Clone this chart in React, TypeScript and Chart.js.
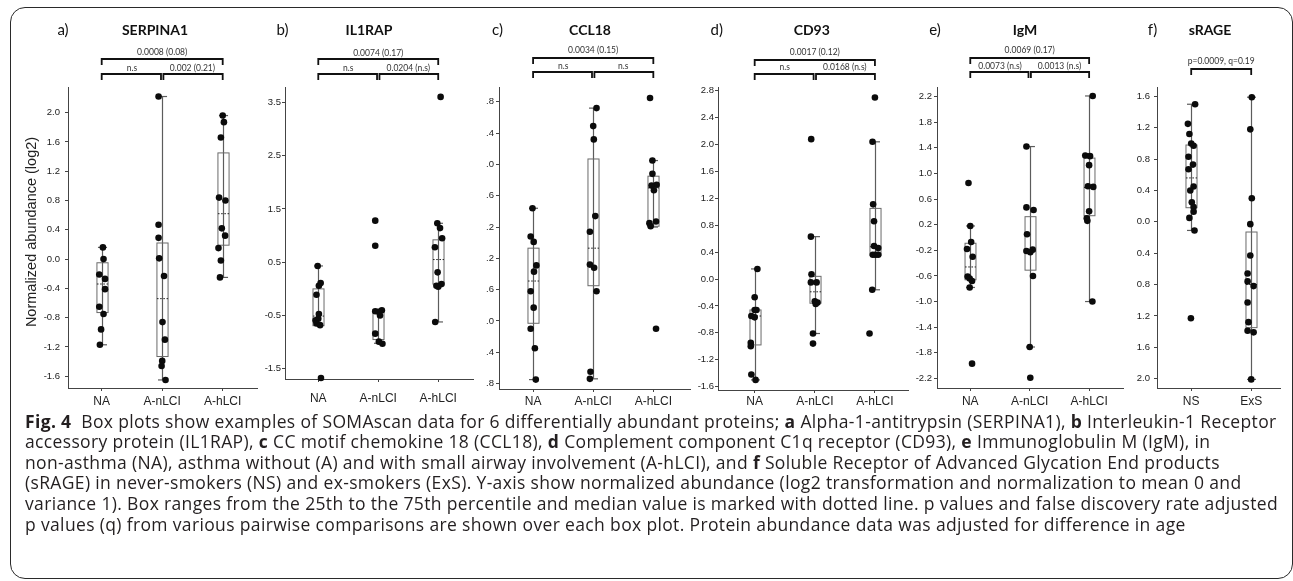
import React, { useEffect, useRef } from "react";
import { Chart, registerables } from "chart.js";

Chart.register(...registerables);

/* ====================== DATA ====================== */
const GROUPS_3 = ["NA", "A-nLCI", "A-hLCI"];
const GROUPS_2 = ["NS", "ExS"];

// a) SERPINA1
const A_TICKS = [2.0, 1.6, 1.2, 0.8, 0.4, 0.0, -0.4, -0.8, -1.2, -1.6];
const A_TICK_LABELS = ["2.0", "1.6", "1.2", "0.8", "0.4", "0.0", "-0.4", "-0.8", "-1.2", "-1.6"];
const A_NA = [0.16, 0.0, -0.21, -0.27, -0.41, -0.65, -0.75, -0.96, -1.17];
const A_NA_JITTER = [0.02, 0.03, -0.04, 0.055, 0.055, -0.04, 0.03, -0.01, -0.03];
const A_NLCI = [2.22, 0.47, 0.29, 0.01, -0.23, -0.86, -1.1, -1.39, -1.46, -1.65];
const A_NLCI_JITTER = [-0.06, -0.06, -0.06, -0.05, 0.03, 0.005, 0.045, 0, -0.01, 0.055];
const A_HLCI = [1.96, 1.87, 1.66, 0.84, 0.8, 0.42, 0.32, 0.15, -0.02, -0.25];
const A_HLCI_JITTER = [0, 0.02, -0.03, -0.06, 0.045, -0.015, 0.04, -0.07, -0.03, -0.045];
// [lower whisker, q1, median, q3, upper whisker]
const A_BOXES = [
  [-1.17, -0.73, -0.34, -0.05, 0.16],
  [-1.65, -1.33, -0.54, 0.22, 2.22],
  [-0.25, 0.19, 0.62, 1.45, 1.96],
];
const A_PVALUES = ["0.0008 (0.08)", "n.s", "0.002 (0.21)"];

// b) IL1RAP
const B_TICKS = [3.5, 2.5, 1.5, 0.5, -0.5, -1.5];
const B_TICK_LABELS = ["3.5", "2.5", "1.5", "0.5", "-0.5", "-1.5"];
const B_NA = [0.43, 0.11, 0.06, -0.11, -0.47, -0.56, -0.59, -0.65, -0.68, -1.67];
const B_NA_JITTER = [-0.01, 0.04, 0.01, -0.03, 0.01, 0, -0.045, -0.03, 0.03, 0.045];
const B_NLCI = [1.28, 0.81, -0.4, -0.42, -0.43, -0.5, -0.84, -0.99, -1.03];
const B_NLCI_JITTER = [-0.05, -0.05, 0.06, -0.05, 0.005, 0.03, -0.05, 0.01, 0.07];
const B_HLCI = [3.6, 1.23, 1.14, 0.95, 0.78, 0.31, 0.09, 0.06, 0.04, -0.62];
const B_HLCI_JITTER = [0.04, -0.015, 0.03, 0.065, -0.055, -0.01, 0.055, -0.03, 0, -0.05];
const B_BOXES = [
  [-0.69, -0.69, -0.51, 0.0, 0.43],
  [-1.02, -0.95, -0.43, -0.39, -0.39],
  [-0.62, 0.09, 0.55, 0.92, 1.23],
];
const B_PVALUES = ["0.0074 (0.17)", "n.s", "0.0204 (n.s)"];

// c) CCL18
const C_TICKS = [1.8, 1.4, 1.0, 0.6, 0.2, -0.2, -0.6, -1.0, -1.4, -1.8];
const C_TICK_LABELS = [".8", ".4", ".0", ".6", ".2", ".2", ".6", ".0", ".4", ".8"];
const C_NA = [0.44, 0.08, 0.01, -0.29, -0.37, -0.62, -0.83, -1.1, -1.35, -1.75];
const C_NA_JITTER = [-0.01, -0.04, 0.01, 0.055, 0.015, -0.04, 0.01, -0.04, 0.03, 0.045];
const C_NLCI = [1.72, 1.49, 1.32, 0.34, 0.14, -0.28, -0.32, -0.62, -1.65, -1.74];
const C_NLCI_JITTER = [0.055, 0, 0.01, 0.035, -0.055, -0.055, 0.015, 0.055, -0.045, -0.055];
const C_HLCI = [1.85, 1.05, 0.88, 0.74, 0.73, 0.67, 0.27, 0.25, 0.21, -1.1];
const C_HLCI_JITTER = [-0.055, -0.015, -0.015, 0.055, -0.03, 0.01, 0.045, -0.065, -0.045, 0.045];
const C_BOXES = [
  [-1.75, -1.03, -0.49, -0.07, 0.44],
  [-1.74, -0.55, -0.07, 1.07, 1.72],
  [0.2, 0.21, 0.7, 0.85, 1.05],
];
const C_PVALUES = ["0.0034 (0.15)", "n.s", "n.s"];

// d) CD93
const D_TICKS = [2.8, 2.4, 2.0, 1.6, 1.2, 0.8, 0.4, 0.0, -0.4, -0.8, -1.2, -1.6];
const D_TICK_LABELS = ["2.8", "2.4", "2.0", "1.6", "1.2", "0.8", "0.4", "0.0", "-0.4", "-0.8", "-1.2", "-1.6"];
const D_NA = [0.15, -0.27, -0.46, -0.46, -0.55, -0.57, -0.95, -1.0, -1.42, -1.5];
const D_NA_JITTER = [0.045, 0, 0, 0.03, -0.055, 0, -0.065, -0.065, -0.055, 0.015];
const D_NLCI = [2.08, 0.63, 0.07, -0.05, -0.05, -0.33, -0.35, -0.37, -0.81, -0.96];
const D_NLCI_JITTER = [-0.06, -0.065, -0.055, -0.065, 0.03, 0, 0.045, 0.015, -0.03, -0.03];
const D_HLCI = [2.7, 2.04, 1.11, 0.86, 0.49, 0.46, 0.36, 0.36, 0.36, -0.16, -0.81];
const D_HLCI_JITTER = [0, -0.04, -0.03, -0.015, -0.015, 0.055, -0.035, 0.01, 0.055, -0.045, -0.09];
const D_BOXES = [
  [-1.5, -0.98, -0.55, -0.46, 0.15],
  [-0.81, -0.36, -0.19, 0.04, 0.63],
  [-0.16, 0.35, 0.48, 1.05, 2.04],
];
const D_PVALUES = ["0.0017 (0.12)", "n.s", "0.0168 (n.s)"];

// e) IgM
const E_TICKS = [2.2, 1.8, 1.4, 1.0, 0.6, 0.2, -0.2, -0.6, -1.0, -1.4, -1.8, -2.2];
const E_TICK_LABELS = ["2.2", "1.8", "1.4", "1.0", "0.6", "0.2", "-0.2", "-0.6", "-1.0", "-1.4", "-1.8", "-2.2"];
const E_NA = [0.85, 0.18, -0.07, -0.18, -0.3, -0.61, -0.64, -0.68, -0.78, -1.97];
const E_NA_JITTER = [-0.03, 0, 0.015, -0.055, 0.04, -0.045, -0.01, 0.03, -0.01, 0.03];
const E_NLCI = [1.42, 0.47, 0.43, 0.05, -0.19, -0.21, -0.23, -0.6, -1.71, -2.19];
const E_NLCI_JITTER = [-0.055, -0.055, 0.065, -0.045, 0.05, -0.055, 0.01, 0.055, 0, 0.01];
const E_HLCI = [2.21, 1.28, 1.27, 1.13, 0.8, 0.79, 0.41, 0.3, 0.26, -1.0];
const E_HLCI_JITTER = [0.06, -0.065, 0.015, 0, -0.02, 0.07, 0, -0.04, -0.03, 0.055];
const E_BOXES = [
  [-0.78, -0.66, -0.46, -0.09, 0.18],
  [-1.71, -0.51, -0.21, 0.325, 1.42],
  [-1.0, 0.34, 0.78, 1.24, 2.21],
];
const E_PVALUES = ["0.0069 (0.17)", "0.0073 (n.s)", "0.0013 (n.s)"];

// f) sRAGE
const F_TICKS = [1.6, 1.2, 0.8, 0.4, 0.0, -0.4, -0.8, -1.2, -1.6, -2.0];
const F_TICK_LABELS = ["1.6", "1.2", "0.8", "0.4", "0.0", "0.4", "0.8", "1.2", "1.6", "2.0"];
const F_NS = [1.5, 1.25, 1.12, 1.0, 0.97, 0.83, 0.73, 0.67, 0.45, 0.4, 0.25, 0.19, 0.13, 0.05, -0.11, -1.23];
const F_NS_JITTER = [0.065, -0.055, -0.03, 0, 0.04, -0.045, 0.03, -0.045, 0.04, -0.015, 0.01, 0.04, 0.04, -0.03, 0.055, -0.005];
const F_EXS = [1.59, 1.18, 0.3, -0.03, -0.43, -0.66, -0.76, -0.82, -1.03, -1.28, -1.39, -1.41, -2.01];
const F_EXS_JITTER = [0.01, -0.015, 0.01, -0.015, -0.015, -0.06, -0.06, 0.04, -0.06, -0.045, -0.06, 0.04, 0];
const F_BOXES = [
  [-0.11, 0.18, 0.56, 0.98, 1.5],
  [-2.01, -1.35, -0.8, -0.13, 1.59],
];
const F_PVALUES = ["p=0.0009, q=0.19"];

/* ====================== LAYOUT ====================== */
const CANVAS_TOP = 10;
const CANVAS_H = 400;
const PLOT_TOP = 87;
const TITLE_Y = 30;
const BOX_HALF = 0.092;
const CAP_HALF = 0.075;
const AXIS_FONT = "'Liberation Sans', Arial, sans-serif";
const LABEL_FONT = "Lato, 'Open Sans', sans-serif";
const CAPTION_FONT = "'Open Sans', 'Noto Sans', sans-serif";

type PanelSpec = {
  letter: string; title: string; groups: string[];
  values: number[][]; jitter: number[][]; boxes: number[][];
  ticks: number[]; tickLabels: string[]; pvalues: string[];
  left: number; right: number; axisX: number; plotRight: number; plotBottom: number;
  yMin: number; yMax: number; xMin: number; xMax: number;
  letterX: number; titleX: number;
  upperY: number; upperTextY: number; lowerY: number; lowerTextY: number;
  yLabelPad: number; xLabelPad: number;
  yTitle?: string; yTitleX?: number; yTitleY?: number;
};

const PANELS: PanelSpec[] = [
  {
    letter: "a)", title: "SERPINA1", groups: GROUPS_3,
    values: [A_NA, A_NLCI, A_HLCI], jitter: [A_NA_JITTER, A_NLCI_JITTER, A_HLCI_JITTER],
    boxes: A_BOXES, ticks: A_TICKS, tickLabels: A_TICK_LABELS, pvalues: A_PVALUES,
    left: 12, right: 262, axisX: 68, plotRight: 257, plotBottom: 388,
    yMin: -1.76, yMax: 2.35, xMin: 0.443, xMax: 3.567,
    letterX: 63, titleX: 155, upperY: 59, upperTextY: 52, lowerY: 74, lowerTextY: 68,
    yLabelPad: 5, xLabelPad: 3.5,
    yTitle: "Normalized abundance (log2)", yTitleX: 32, yTitleY: 232,
  },
  {
    letter: "b)", title: "IL1RAP", groups: GROUPS_3,
    values: [B_NA, B_NLCI, B_HLCI], jitter: [B_NA_JITTER, B_NLCI_JITTER, B_HLCI_JITTER],
    boxes: B_BOXES, ticks: B_TICKS, tickLabels: B_TICK_LABELS, pvalues: B_PVALUES,
    left: 262, right: 478, axisX: 285, plotRight: 473, plotBottom: 379,
    yMin: -1.69, yMax: 3.786, xMin: 0.445, xMax: 3.58,
    letterX: 282.5, titleX: 369, upperY: 59, upperTextY: 53, lowerY: 74, lowerTextY: 68,
    yLabelPad: 1, xLabelPad: 9,
  },
  {
    letter: "c)", title: "CCL18", groups: GROUPS_3,
    values: [C_NA, C_NLCI, C_HLCI], jitter: [C_NA_JITTER, C_NLCI_JITTER, C_HLCI_JITTER],
    boxes: C_BOXES, ticks: C_TICKS, tickLabels: C_TICK_LABELS, pvalues: C_PVALUES,
    left: 478, right: 695, axisX: 499, plotRight: 690, plotBottom: 389,
    yMin: -1.87, yMax: 1.99, xMin: 0.433, xMax: 3.61,
    letterX: 497.5, titleX: 590, upperY: 58, upperTextY: 50, lowerY: 72, lowerTextY: 66.5,
    yLabelPad: 2, xLabelPad: 2.5,
  },
  {
    letter: "d)", title: "CD93", groups: GROUPS_3,
    values: [D_NA, D_NLCI, D_HLCI], jitter: [D_NA_JITTER, D_NLCI_JITTER, D_HLCI_JITTER],
    boxes: D_BOXES, ticks: D_TICKS, tickLabels: D_TICK_LABELS, pvalues: D_PVALUES,
    left: 695, right: 912, axisX: 718, plotRight: 908, plotBottom: 390,
    yMin: -1.65, yMax: 2.855, xMin: 0.39, xMax: 3.55,
    letterX: 716.7, titleX: 811.7, upperY: 60, upperTextY: 52.5, lowerY: 74, lowerTextY: 67.5,
    yLabelPad: 1, xLabelPad: 1.5,
  },
  {
    letter: "e)", title: "IgM", groups: GROUPS_3,
    values: [E_NA, E_NLCI, E_HLCI], jitter: [E_NA_JITTER, E_NLCI_JITTER, E_HLCI_JITTER],
    boxes: E_BOXES, ticks: E_TICKS, tickLabels: E_TICK_LABELS, pvalues: E_PVALUES,
    left: 912, right: 1128, axisX: 937, plotRight: 1123, plotBottom: 388,
    yMin: -2.35, yMax: 2.35, xMin: 0.44, xMax: 3.57,
    letterX: 935, titleX: 1025, upperY: 58, upperTextY: 50, lowerY: 72, lowerTextY: 66.5,
    yLabelPad: 2, xLabelPad: 3.5,
  },
  {
    letter: "f)", title: "sRAGE", groups: GROUPS_2,
    values: [F_NS, F_EXS], jitter: [F_NS_JITTER, F_EXS_JITTER],
    boxes: F_BOXES, ticks: F_TICKS, tickLabels: F_TICK_LABELS, pvalues: F_PVALUES,
    left: 1128, right: 1288, axisX: 1157, plotRight: 1280, plotBottom: 388,
    yMin: -2.12, yMax: 1.72, xMin: 0.43, xMax: 2.48,
    letterX: 1152.5, titleX: 1210, upperY: 69, upperTextY: 61.5, lowerY: 0, lowerTextY: 0,
    yLabelPad: 4, xLabelPad: 3.5,
  },
];

/* ====================== DRAWING ====================== */
function makeDecor(p: PanelSpec) {
  return {
    id: "decor",
    beforeDatasetsDraw(chart: any) {
      const ctx: CanvasRenderingContext2D = chart.ctx;
      const xs = chart.scales.x;
      const ys = chart.scales.y;
      ctx.save();
      p.boxes.forEach((b, i) => {
        const pos = i + 1;
        const cx = Math.round(xs.getPixelForValue(pos)) + 0.5;
        const hw = xs.getPixelForValue(pos + BOX_HALF) - xs.getPixelForValue(pos);
        const cw = xs.getPixelForValue(pos + CAP_HALF) - xs.getPixelForValue(pos);
        const [lo, q1, med, q3, hi] = b;
        const yLo = ys.getPixelForValue(lo);
        const yQ1 = ys.getPixelForValue(q1);
        const yMed = ys.getPixelForValue(med);
        const yQ3 = ys.getPixelForValue(q3);
        const yHi = ys.getPixelForValue(hi);
        ctx.setLineDash([]);
        ctx.strokeStyle = "#5c5c5c";
        ctx.lineWidth = 1.2;
        ctx.beginPath();
        ctx.moveTo(cx, yLo);
        ctx.lineTo(cx, yHi);
        ctx.stroke();
        if (hi > q3 + 1e-9) {
          ctx.beginPath();
          ctx.moveTo(cx - cw, yHi);
          ctx.lineTo(cx + cw, yHi);
          ctx.stroke();
        }
        if (lo < q1 - 1e-9) {
          ctx.beginPath();
          ctx.moveTo(cx - cw, yLo);
          ctx.lineTo(cx + cw, yLo);
          ctx.stroke();
        }
        ctx.lineWidth = 1;
        ctx.strokeStyle = "#6a6a6a";
        ctx.strokeRect(cx - hw, yQ3, 2 * hw, yQ1 - yQ3);
        ctx.setLineDash([1.6, 1.6]);
        ctx.strokeStyle = "#222";
        ctx.beginPath();
        ctx.moveTo(cx - hw, yMed);
        ctx.lineTo(cx + hw, yMed);
        ctx.stroke();
      });
      ctx.restore();
    },
    afterDraw(chart: any) {
      const ctx: CanvasRenderingContext2D = chart.ctx;
      const xs = chart.scales.x;
      const ox = p.left;
      const oy = CANVAS_TOP;
      ctx.save();
      ctx.fillStyle = "#111";
      ctx.textBaseline = "middle";
      ctx.textAlign = "center";
      ctx.font = `15px ${LABEL_FONT}`;
      ctx.fillText(p.letter, p.letterX - ox, TITLE_Y - oy);
      ctx.font = `bold 14px ${LABEL_FONT}`;
      ctx.fillText(p.title, p.titleX - ox, TITLE_Y - oy);

      const tick = 6;
      const bracket = (x1: number, x2: number, y: number) => {
        ctx.beginPath();
        ctx.moveTo(x1, y + tick);
        ctx.lineTo(x1, y);
        ctx.lineTo(x2, y);
        ctx.lineTo(x2, y + tick);
        ctx.stroke();
      };
      ctx.strokeStyle = "#111";
      ctx.lineWidth = 1.8;
      ctx.fillStyle = "#333";
      ctx.font = `8.5px ${LABEL_FONT}`;
      const px = p.groups.map((_, i) => xs.getPixelForValue(i + 1));
      if (p.groups.length === 3) {
        bracket(px[0], px[2], p.upperY - oy);
        ctx.fillText(p.pvalues[0], (px[0] + px[2]) / 2, p.upperTextY - oy);
        bracket(px[0], px[1] - 1.2, p.lowerY - oy);
        bracket(px[1] + 1.2, px[2], p.lowerY - oy);
        ctx.fillText(p.pvalues[1], (px[0] + px[1]) / 2, p.lowerTextY - oy);
        ctx.fillText(p.pvalues[2], (px[1] + px[2]) / 2, p.lowerTextY - oy);
      } else {
        bracket(px[0], px[1], p.upperY - oy);
        ctx.fillText(p.pvalues[0], (px[0] + px[1]) / 2, p.upperTextY - oy);
      }

      if (p.yTitle) {
        ctx.save();
        ctx.translate((p.yTitleX as number) - ox, (p.yTitleY as number) - oy);
        ctx.rotate(-Math.PI / 2);
        ctx.fillStyle = "#222";
        ctx.font = `14.5px ${AXIS_FONT}`;
        ctx.fillText(p.yTitle, 0, 0);
        ctx.restore();
      }
      ctx.restore();
    },
  };
}

function buildConfig(p: PanelSpec): any {
  const points: { x: number; y: number }[] = [];
  p.values.forEach((vals, gi) =>
    vals.forEach((v, k) => points.push({ x: gi + 1 + p.jitter[gi][k], y: v }))
  );
  const grid = { display: true, drawOnChartArea: false, drawTicks: true, tickLength: 3, color: "#444" };
  const border = { display: true, color: "#444", width: 1 };
  return {
    type: "scatter",
    data: {
      datasets: [
        {
          data: points,
          pointRadius: 3.3,
          pointHoverRadius: 3.3,
          backgroundColor: "#0b0b0b",
          borderWidth: 0,
          clip: false,
        },
      ],
    },
    options: {
      responsive: false,
      animation: false,
      devicePixelRatio: 1,
      events: [],
      layout: { padding: { top: PLOT_TOP - CANVAS_TOP, right: p.right - p.plotRight, left: 0, bottom: 0 } },
      plugins: { legend: { display: false }, tooltip: { enabled: false } },
      scales: {
        x: {
          type: "linear",
          position: "bottom",
          min: p.xMin,
          max: p.xMax,
          bounds: "data",
          afterBuildTicks: (s: any) => {
            s.ticks = p.groups.map((_, i) => ({ value: i + 1 }));
          },
          afterFit: (s: any) => {
            s.height = CANVAS_TOP + CANVAS_H - p.plotBottom;
          },
          ticks: {
            autoSkip: false,
            maxRotation: 0,
            padding: p.xLabelPad,
            color: "#222",
            font: { family: AXIS_FONT, size: 12 },
            callback: (v: number) => p.groups[Math.round(v) - 1] ?? "",
          },
          grid,
          border,
        },
        y: {
          type: "linear",
          min: p.yMin,
          max: p.yMax,
          bounds: "data",
          afterBuildTicks: (s: any) => {
            s.ticks = [...p.ticks].sort((a, b) => a - b).map((v) => ({ value: v }));
          },
          afterFit: (s: any) => {
            s.width = p.axisX - p.left;
          },
          ticks: {
            autoSkip: false,
            padding: p.yLabelPad,
            color: "#222",
            font: { family: AXIS_FONT, size: 9.5 },
            callback: (v: number) => {
              const i = p.ticks.findIndex((t) => Math.abs(t - v) < 1e-6);
              return i >= 0 ? p.tickLabels[i] : "";
            },
          },
          grid: { ...grid, tickLength: 3 },
          border,
        },
      },
    },
    plugins: [makeDecor(p)],
  };
}

function PanelChart({ p }: { p: PanelSpec }) {
  const ref = useRef<HTMLCanvasElement>(null);
  useEffect(() => {
    const canvas = ref.current;
    if (!canvas) return;
    const chart = new Chart(canvas, buildConfig(p));
    return () => chart.destroy();
  }, [p]);
  const w = p.right - p.left;
  return (
    <canvas
      ref={ref}
      width={w}
      height={CANVAS_H}
      style={{ position: "absolute", left: p.left, top: CANVAS_TOP, width: w, height: CANVAS_H }}
    />
  );
}

export default function App() {
  const capStyle: React.CSSProperties = {
    position: "absolute",
    left: 25,
    top: 410.7,
    fontFamily: CAPTION_FONT,
    fontSize: 17.5,
    letterSpacing: "0.35px",
    lineHeight: "20.6px",
    color: "#231f20",
    whiteSpace: "pre",
  };
  return (
    <div
      style={{
        position: "absolute",
        left: 0,
        top: 0,
        width: 1293,
        height: 581,
        background: "#fff",
        overflow: "hidden",
      }}
    >
      <div
        style={{
          position: "absolute",
          left: 10,
          top: 7,
          width: 1283,
          height: 572,
          boxSizing: "border-box",
          border: "1px solid #2a2a2a",
          borderRadius: 15,
        }}
      />
      {PANELS.map((p) => (
        <PanelChart key={p.letter} p={p} />
      ))}
      <div style={capStyle}>
        <div>
          <b>Fig. 4</b>
          {"  Box plots show examples of SOMAscan data for 6 differentially abundant proteins; "}
          <b>a</b>
          {" Alpha-1-antitrypsin (SERPINA1), "}
          <b>b</b>
          {" Interleukin-1 Receptor"}
        </div>
        <div>
          {"accessory protein (IL1RAP), "}
          <b>c</b>
          {" CC motif chemokine 18 (CCL18), "}
          <b>d</b>
          {" Complement component C1q receptor (CD93), "}
          <b>e</b>
          {" Immunoglobulin M (IgM), in"}
        </div>
        <div>
          {"non-asthma (NA), asthma without (A) and with small airway involvement (A-hLCI), and "}
          <b>f</b>
          {" Soluble Receptor of Advanced Glycation End products"}
        </div>
        <div>
          {"(sRAGE) in never-smokers (NS) and ex-smokers (ExS). Y-axis show normalized abundance (log2 transformation and normalization to mean 0 and"}
        </div>
        <div>
          {"variance 1). Box ranges from the 25th to the 75th percentile and median value is marked with dotted line. p values and false discovery rate adjusted"}
        </div>
        <div>
          {"p values (q) from various pairwise comparisons are shown over each box plot. Protein abundance data was adjusted for difference in age"}
        </div>
      </div>
    </div>
  );
}
